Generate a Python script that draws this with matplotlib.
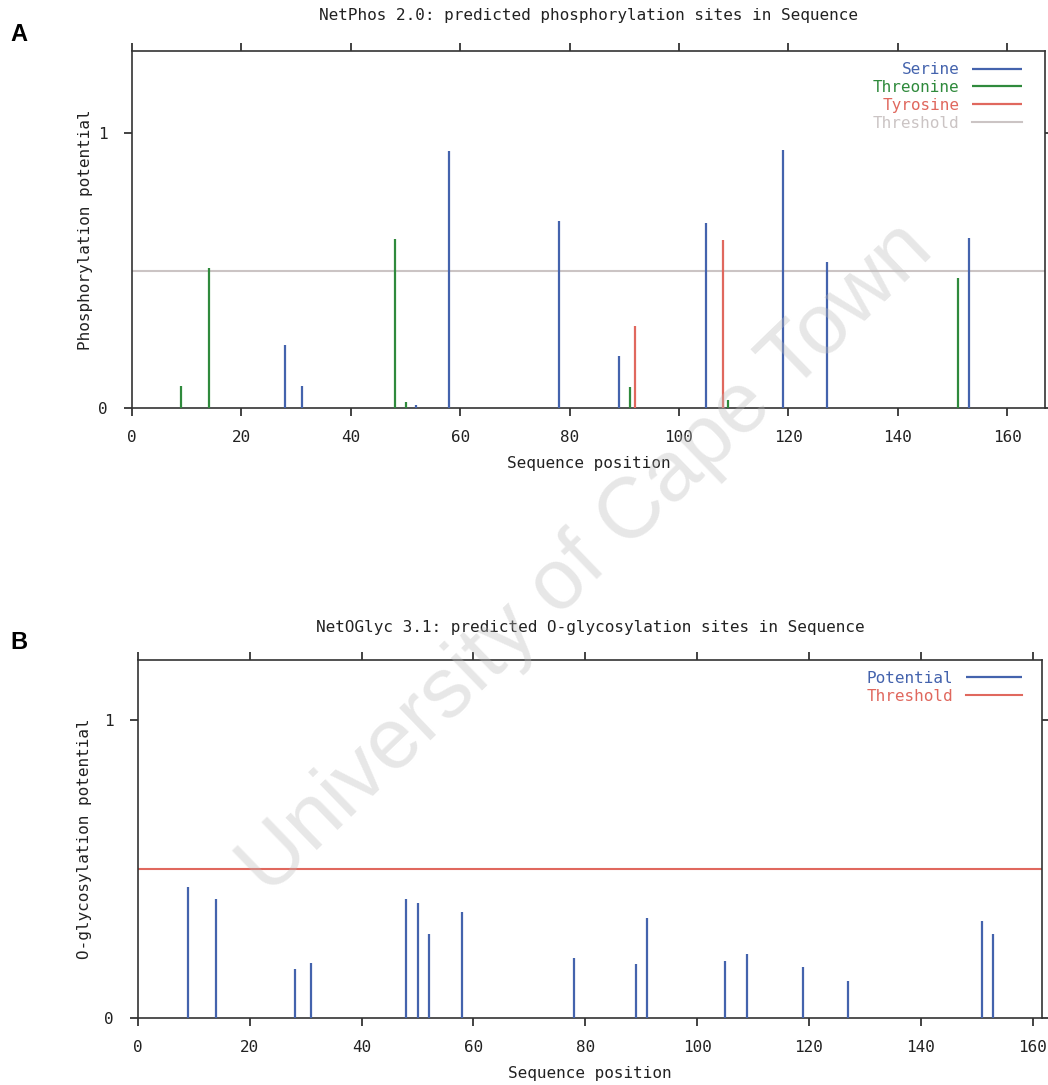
import matplotlib
matplotlib.use("Agg")
import matplotlib.pyplot as plt

# panel A: NetPhos predictions
serine_pos = [28, 31, 52, 58, 78, 89, 105, 119, 127, 153]
serine_val = [0.23, 0.08, 0.01, 0.935, 0.68, 0.19, 0.675, 0.94, 0.53, 0.62]
threonine_pos = [9, 14, 48, 50, 91, 109, 151]
threonine_val = [0.08, 0.51, 0.615, 0.02, 0.075, 0.03, 0.475]
tyrosine_pos = [92, 108]
tyrosine_val = [0.30, 0.61]
phos_threshold = 0.5

# panel B: NetOGlyc predictions
glyco_pos = [9, 14, 28, 31, 48, 50, 52, 58, 78, 89, 91, 105, 109, 119, 127, 151, 153]
glyco_val = [0.44, 0.40, 0.165, 0.185, 0.40, 0.385, 0.28, 0.355, 0.20, 0.18, 0.335,
             0.19, 0.215, 0.17, 0.125, 0.325, 0.28]
glyco_threshold = 0.5

xticks = [0, 20, 40, 60, 80, 100, 120, 140, 160]
yticks = [0, 1]

blue = "#4463ad"
green = "#2f8a3c"
red = "#e0685e"
grey = "#cbc4c4"

mono = "DejaVu Sans Mono"
fs = 11.5

fig = plt.figure(figsize=(10.48, 10.85), dpi=100)
axA = fig.add_axes([0.126, 0.624, 0.871, 0.329])
axB = fig.add_axes([0.1317, 0.0618, 0.8626, 0.330])


def style(ax, xmax, ymax, title, ylabel, tpad, ypad):
    ax.set_xlim(0, xmax)
    ax.set_ylim(0, ymax)
    ax.set_xticks(xticks)
    ax.set_yticks(yticks)
    ax.tick_params(direction="out", length=6, width=1.2, top=True, right=True,
                   labelsize=fs, colors="#222222")
    ax.tick_params(axis="x", pad=10)
    ax.tick_params(axis="y", pad=11.5)
    for lab in ax.get_xticklabels() + ax.get_yticklabels():
        lab.set_fontfamily(mono)
    for sp in ax.spines.values():
        sp.set_color("#333333")
        sp.set_linewidth(1.2)
    ax.set_title(title, fontfamily=mono, fontsize=fs, pad=tpad, color="#222222")
    ax.set_xlabel("Sequence position", fontfamily=mono, fontsize=fs, color="#222222",
                  labelpad=8)
    ax.set_ylabel(ylabel, fontfamily=mono, fontsize=fs, color="#222222", labelpad=ypad)


# ---- A ----
thrA = axA.axhline(phos_threshold, color=grey, lw=1.5, zorder=1)
s = axA.vlines(serine_pos, 0, serine_val, color=blue, lw=1.6, zorder=3)
t = axA.vlines(threonine_pos, 0, threonine_val, color=green, lw=1.6, zorder=3)
y = axA.vlines(tyrosine_pos, 0, tyrosine_val, color=red, lw=1.6, zorder=3)
style(axA, 166.9, 1.30, "NetPhos 2.0: predicted phosphorylation sites in Sequence",
      "Phosphorylation potential", 22, 3.5)
legA = axA.legend([s, t, y, thrA], ["Serine", "Threonine", "Tyrosine", "Threshold"],
                  loc="upper right", bbox_to_anchor=(0.987, 1.0), frameon=False,
                  markerfirst=False, handlelength=3.1, labelspacing=0.18,
                  borderaxespad=0.3, prop={"family": mono, "size": fs})
for txt, c in zip(legA.get_texts(), [blue, green, red, grey]):
    txt.set_color(c)

# ---- B ----
p = axB.vlines(glyco_pos, 0, glyco_val, color=blue, lw=1.6, zorder=3)
thrB = axB.axhline(glyco_threshold, color=red, lw=1.5, zorder=2)
style(axB, 161.7, 1.20, "NetOGlyc 3.1: predicted O-glycosylation sites in Sequence",
      "O-glycosylation potential", 20, 8.5)
legB = axB.legend([p, thrB], ["Potential", "Threshold"],
                  loc="upper right", bbox_to_anchor=(0.99, 1.0), frameon=False,
                  markerfirst=False, handlelength=3.5, labelspacing=0.18,
                  borderaxespad=0.3, prop={"family": mono, "size": fs})
for txt, c in zip(legB.get_texts(), [blue, red]):
    txt.set_color(c)

# panel letters
fig.text(0.010, 0.962, "A", fontsize=17, fontweight="bold", fontfamily="Liberation Sans")
fig.text(0.010, 0.402, "B", fontsize=17, fontweight="bold", fontfamily="Liberation Sans")

# watermark
fig.text(0.56, 0.485, "University of Cape Town", fontsize=62, fontfamily="Liberation Sans",
         rotation=44, color="#bbbbbb", alpha=0.35, ha="center", va="center", zorder=10)

fig.savefig("out.png", dpi=100, facecolor="white")
